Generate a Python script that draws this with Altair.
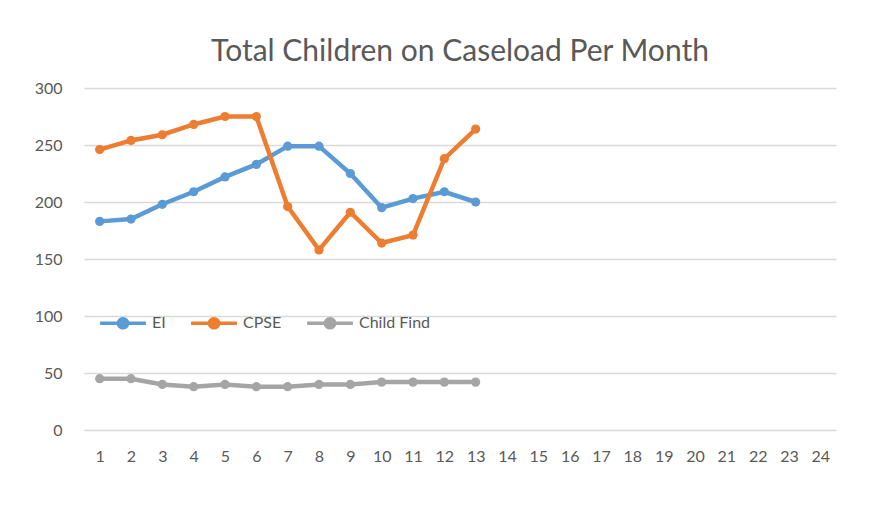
import altair as alt
import pandas as pd

months = [str(i) for i in range(1, 25)]
series_names = ["EI", "CPSE", "Child Find"]
series_colors = ["#5B9BD5", "#ED7D31", "#A5A5A5"]

ei = [183, 185, 198, 209, 222, 233, 249, 249, 225, 195, 203, 209, 200]
cpse = [246, 254, 259, 268, 275, 275, 196, 158, 191, 164, 171, 238, 264]
child_find = [45, 45, 40, 38, 40, 38, 38, 40, 40, 42, 42, 42, 42]

rows = []
for name, vals in zip(series_names, [ei, cpse, child_find]):
    for i, v in enumerate(vals):
        rows.append({"Month": months[i], "Series": name, "Value": v})
df = pd.DataFrame(rows)

FONT = "Lato"
TXT = "#595959"

legend_symbol = "M-1,0L1,0M0.2,0A0.2,0.2,0,1,1,-0.2,0A0.2,0.2,0,1,1,0.2,0Z"

x = alt.X("Month:O", scale=alt.Scale(domain=months, padding=0.5),
          sort=months,
          axis=alt.Axis(title=None, labelAngle=0, domain=False, ticks=False,
                        labelPadding=18, labelFontSize=16, labelColor=TXT,
                        labelFont=FONT, grid=False))
y = alt.Y("Value:Q", scale=alt.Scale(domain=[0, 300], nice=False),
          axis=alt.Axis(title=None, values=[0, 50, 100, 150, 200, 250, 300],
                        domain=False, ticks=False, labelPadding=22,
                        labelFontSize=16, labelColor=TXT, labelFont=FONT,
                        gridColor="#D9D9D9", gridWidth=1.3))
color = alt.Color("Series:N",
                  scale=alt.Scale(domain=series_names, range=series_colors),
                  legend=alt.Legend(title=None, orient="none", direction="horizontal",
                                    legendX=14, legendY=210,
                                    symbolType=legend_symbol, symbolSize=2100,
                                    symbolStrokeWidth=3.5, labelFontSize=16,
                                    labelColor=TXT, labelFont=FONT,
                                    labelOffset=4, columnPadding=18))

base = alt.Chart(df).encode(x=x, y=y, color=color, detail="Series:N")
lines = base.mark_line(strokeWidth=4.5)
points = base.mark_point(filled=True, size=85, opacity=1)

chart = (lines + points).properties(
    width=752, height=342,
    title=alt.TitleParams("Total Children on Caseload Per Month", fontSize=30,
                          font=FONT, color=TXT, fontWeight="normal",
                          anchor="middle", offset=13),
    padding={"left": 76, "top": 80, "right": 30, "bottom": 60},
    autosize=alt.AutoSizeParams(type="none"),
).configure(background="white").configure_view(stroke=None)

chart.save("out.html", embed_options={"renderer": "svg", "actions": False})
